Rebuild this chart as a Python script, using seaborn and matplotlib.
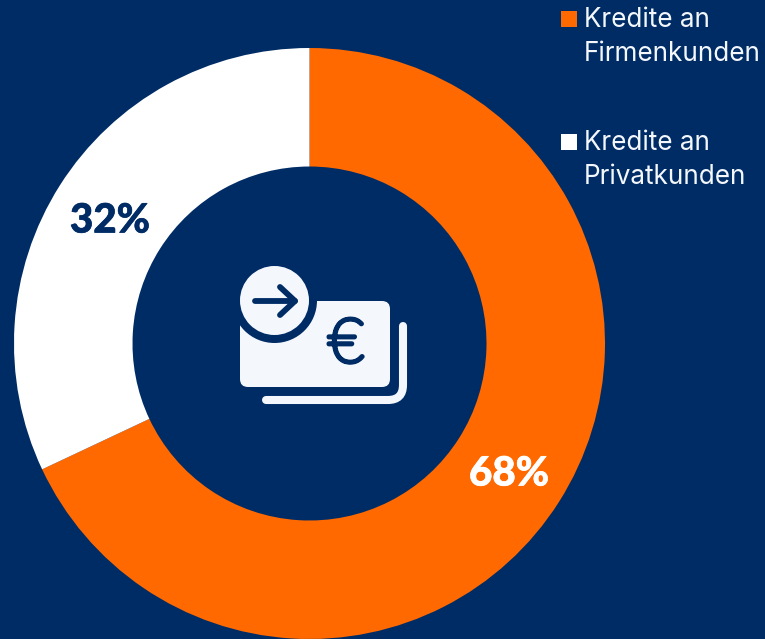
import matplotlib
matplotlib.use("Agg")
import matplotlib.pyplot as plt
import matplotlib.patheffects as pe
import seaborn as sns
from matplotlib.patches import Circle, FancyBboxPatch, Rectangle, PathPatch
from matplotlib.path import Path

categories = ["Kredite an\nFirmenkunden", "Kredite an\nPrivatkunden"]
shares = [68, 32]
share_labels = ["68%", "32%"]

NAVY = "#002c66"
ORANGE = "#ff6900"
WHITE = "#ffffff"
ICON = "#f4f7fb"

sns.set_theme(style="white")
plt.rcParams["font.family"] = ["Inter", "DejaVu Sans"]
palette = sns.color_palette([ORANGE, WHITE])

fig = plt.figure(figsize=(7.65, 6.39), dpi=100, facecolor=NAVY)
# axes in pixel coordinates of the picture
ax = fig.add_axes([0, 0, 1, 1])
ax.set_facecolor(NAVY)

# y axis is flipped below, so this runs clockwise from the top on screen
ax.pie(
    shares,
    colors=palette,
    startangle=-90,
    counterclock=True,
    center=(309.5, 343.5),
    radius=295.5,
    wedgeprops=dict(width=118.5, linewidth=0),
    frame=True,
)
ax.set_xlim(0, 765)
ax.set_ylim(639, 0)
ax.set_aspect("equal")
ax.axis("off")

# share labels
for x, y, label, col in zip([509, 110], [474, 221], share_labels, [WHITE, NAVY]):
    ax.text(x, y, label, color=col, fontsize=29, family=["Lato", "DejaVu Sans"],
            fontweight="black", ha="center", va="center",
            path_effects=[pe.withStroke(linewidth=0.5, foreground=col)])

# legend
for y, cat, col in zip([19, 142], categories, palette):
    ax.add_patch(Rectangle((561, y - 8), 16, 16, facecolor=col, edgecolor="none"))
    ax.text(584, y + 18, cat, color=ICON, fontsize=18.8, ha="left", va="center", linespacing=1.38)

# icon in the middle
ax.add_patch(FancyBboxPatch((247, 308), 136, 72, boxstyle="round,pad=7,rounding_size=8",
                            facecolor=ICON, edgecolor="none"))
ax.add_patch(Circle((274.5, 300.5), 42.5, facecolor=NAVY, edgecolor="none"))
ax.add_patch(Circle((274.5, 300.5), 34.5, facecolor=ICON, edgecolor="none"))
ax.plot([255, 295], [301, 301], color=NAVY, lw=4.2, solid_capstyle="round")
ax.plot([280, 295, 280], [287, 301, 315], color=NAVY, lw=4.2,
        solid_capstyle="round", solid_joinstyle="round")
ax.text(346, 345, "€", color=NAVY, fontsize=44, ha="center", va="center",
        family="Lato", fontweight="light",
        path_effects=[pe.withStroke(linewidth=3.2, foreground=NAVY)])

back = Path(
    [(266, 400), (388, 400), (403, 400), (403, 385), (403, 326)],
    [Path.MOVETO, Path.LINETO, Path.CURVE3, Path.CURVE3, Path.LINETO],
)
ax.add_patch(PathPatch(back, facecolor="none", edgecolor=ICON, lw=5.8, capstyle="round"))

fig.savefig("out.png", dpi=100, facecolor=NAVY)
